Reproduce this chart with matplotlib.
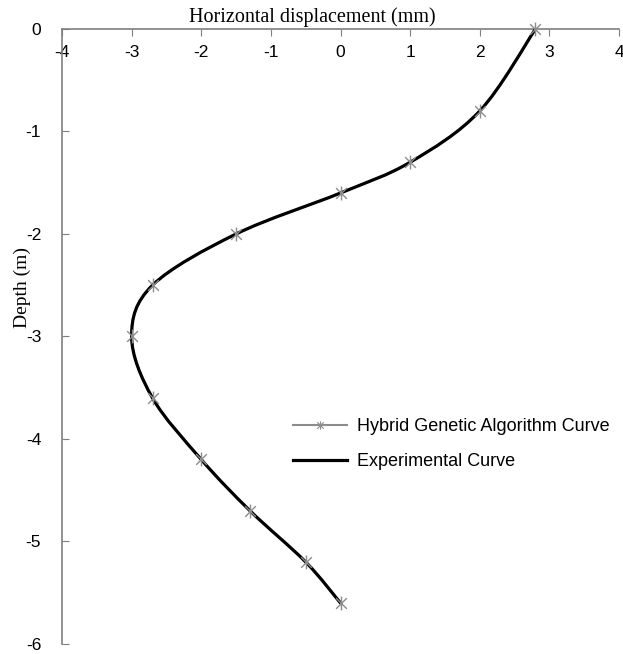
import numpy as np
import matplotlib.pyplot as plt
from matplotlib.path import Path
from matplotlib.patches import PathPatch
from matplotlib.lines import Line2D

# values
displacement = [2.8, 2.0, 1.0, 0.0, -1.5, -2.7, -3.0, -2.7, -2.0, -1.3, -0.5, 0.0]
depth = [0.0, -0.8, -1.3, -1.6, -2.0, -2.5, -3.0, -3.6, -4.2, -4.7, -5.2, -5.6]
x_ticks = [-4, -3, -2, -1, 0, 1, 2, 3, 4]
y_ticks = [-6, -5, -4, -3, -2, -1, 0]


def smooth_path(xs, ys):
    # smoothed line like a spreadsheet's "smoothed line" option (bezier through points)
    pts = np.column_stack([xs, ys])
    n = len(pts)
    verts = [pts[0]]
    codes = [Path.MOVETO]
    for i in range(n - 1):
        p0 = pts[i - 1] if i > 0 else pts[i]
        p1 = pts[i]
        p2 = pts[i + 1]
        p3 = pts[i + 2] if i + 2 < n else pts[i + 1]
        c1 = p1 + (p2 - p0) / 6.0
        c2 = p2 - (p3 - p1) / 6.0
        verts += [c1, c2, p2]
        codes += [Path.CURVE4] * 3
    return Path(verts, codes)


# "x" with a vertical bar, like the spreadsheet star marker
star = Path([(-1, -1), (1, 1), (-1, 1), (1, -1), (0, -1.3), (0, 1.3)],
            [Path.MOVETO, Path.LINETO] * 3)

plt.rcParams['font.family'] = 'Liberation Sans'
plt.rcParams['axes.unicode_minus'] = False
fig = plt.figure(figsize=(6.23, 6.54), dpi=100)
ax = fig.add_axes([0.0995, 0.0153, 0.8941, 0.9404])

gray = '#8c8c8c'
ax.add_patch(PathPatch(smooth_path(displacement, depth), fill=False,
                       edgecolor=gray, lw=1.5, zorder=2))
ax.add_patch(PathPatch(smooth_path(displacement, depth), fill=False,
                       edgecolor='black', lw=2.3, zorder=3, capstyle='round'))
ax.plot(displacement, depth, ls='none', marker=star, ms=10, mew=1.0,
        color=gray, zorder=4, clip_on=False)

ax.set_xlim(-4, 4)
ax.set_ylim(-6, 0)
ax.set_xticks(x_ticks)
ax.set_yticks(y_ticks)

for s in ['right', 'bottom']:
    ax.spines[s].set_visible(False)
for s in ['left', 'top']:
    ax.spines[s].set_color('#7f7f7f')
    ax.spines[s].set_linewidth(1.2)

ax.tick_params(axis='x', direction='in', top=True, bottom=False,
               labeltop=True, labelbottom=False, pad=-22, length=5,
               color='#7f7f7f', labelsize=12.5)
ax.tick_params(axis='y', direction='in', left=True, length=5,
               color='#7f7f7f', labelsize=12.5, pad=15)

ax.set_xlabel('Horizontal displacement (mm)', family='Liberation Serif', fontsize=14.5)
ax.xaxis.set_label_position('top')
ax.xaxis.set_label_coords(0.45, 1.003)
ax.xaxis.label.set_verticalalignment('bottom')
ax.set_ylabel('Depth (m)', family='Liberation Serif', fontsize=14)
ax.yaxis.set_label_coords(-0.055, 0.579)

handles = [Line2D([], [], color=gray, lw=1.5, marker=star, ms=6, mew=0.8),
           Line2D([], [], color='black', lw=2.3)]
ax.legend(handles, ['Hybrid Genetic Algorithm Curve', 'Experimental Curve'],
          loc='upper left', bbox_to_anchor=(0.415, 0.367), frameon=False,
          fontsize=13, numpoints=1, handlelength=3.0, labelspacing=1.0,
          handletextpad=0.55, borderpad=0, borderaxespad=0)

fig.savefig('out.png', dpi=100)
